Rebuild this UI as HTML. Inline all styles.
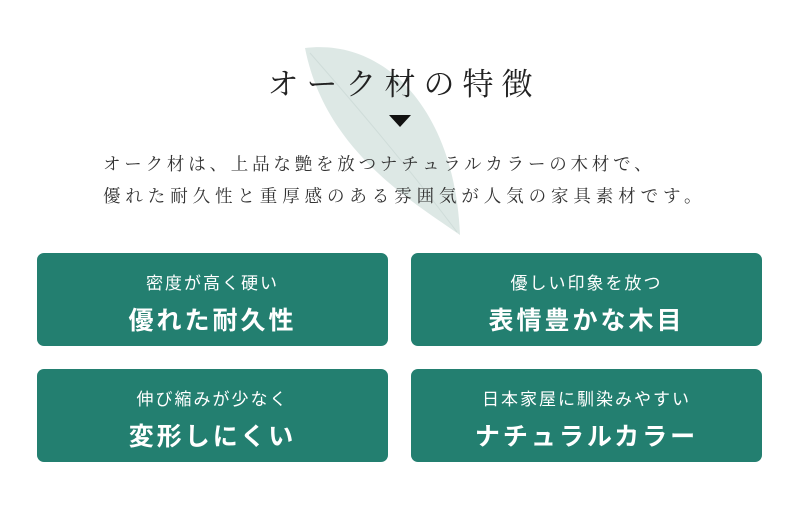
<!DOCTYPE html>
<html><head><meta charset="utf-8"><style>
body{margin:0;width:800px;height:518px;background:#fff;position:relative;overflow:hidden;font-family:"Liberation Sans","Noto Sans CJK JP",sans-serif}
.t{position:absolute;left:0;width:800px;text-align:center;white-space:nowrap}
.title{top:59px;font-family:"Liberation Serif","Noto Serif CJK SC",serif;font-size:31px;letter-spacing:8px;color:#222;text-indent:8px}
.body{position:absolute;left:103px;white-space:nowrap;font-family:"Liberation Serif","Noto Serif CJK SC",serif;font-size:17.5px;color:#333}
.box{position:absolute;width:351px;height:93px;background:#237f70;border-radius:7px;color:#fff;text-align:center}
.box .s{position:absolute;top:16px;width:100%;font-size:17px;letter-spacing:2px}
.box .b{position:absolute;top:48px;width:100%;font-size:25px;font-weight:bold;letter-spacing:3px}
</style></head><body>
<svg style="position:absolute;left:0;top:0" width="800" height="518">
<path d="M305 48 C385 38 455 110 460 235 C410 200 325 150 305 48 Z" fill="#dde8e5"/>
<path d="M310 53 C360 110 412 172 457 232" stroke="#cfdcd9" fill="none" stroke-width="1"/>
<polygon points="389,115 411,115 400,127" fill="#111"/>
</svg>
<div class="t title">オーク材の特徴</div>
<div class="body" style="top:151px;letter-spacing:3.8px">オーク材は、上品な艶を放つナチュラルカラーの木材で、</div>
<div class="body" style="top:183px;letter-spacing:4.9px">優れた耐久性と重厚感のある雰囲気が人気の家具素材です。</div>
<div class="box" style="left:37px;top:253px"><div class="s">密度が高く硬い</div><div class="b">優れた耐久性</div></div>
<div class="box" style="left:411px;top:253px"><div class="s">優しい印象を放つ</div><div class="b">表情豊かな木目</div></div>
<div class="box" style="left:37px;top:369px"><div class="s">伸び縮みが少なく</div><div class="b">変形しにくい</div></div>
<div class="box" style="left:411px;top:369px"><div class="s">日本家屋に馴染みやすい</div><div class="b">ナチュラルカラー</div></div>
</body></html>
